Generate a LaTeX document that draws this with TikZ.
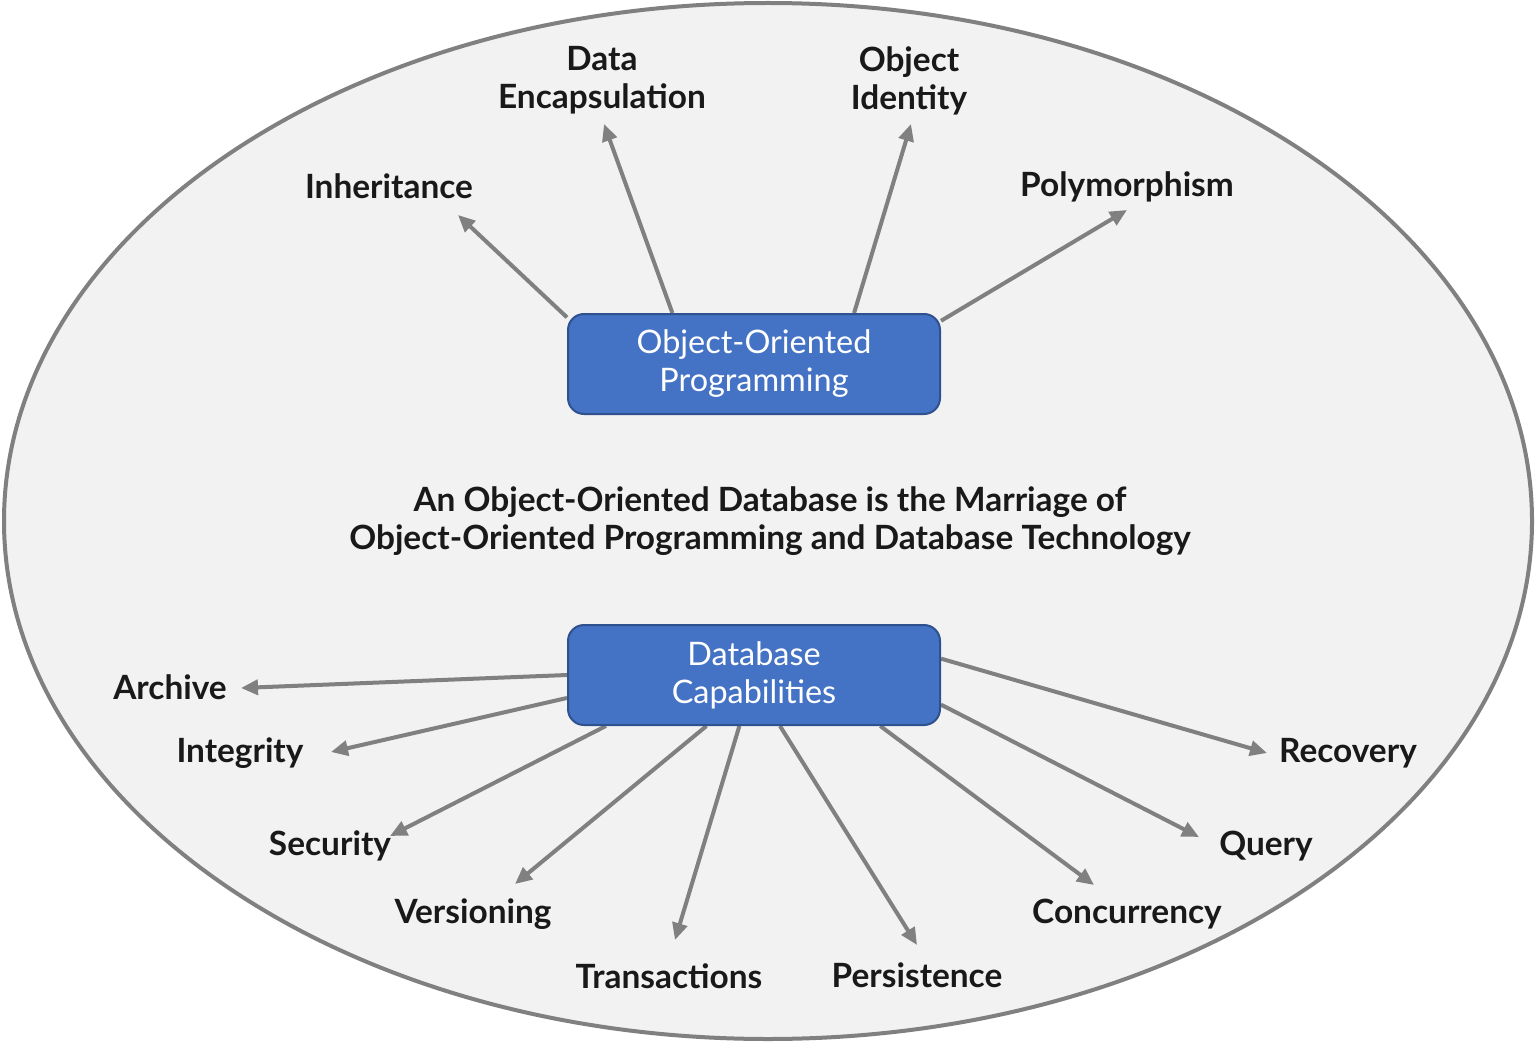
\documentclass[tikz,border=0pt]{standalone}
\usepackage{fontspec}
\setmainfont{Lato}
\usetikzlibrary{arrows.meta,backgrounds}
\definecolor{ovalgray}{RGB}{242,242,242}
\definecolor{linegray}{RGB}{128,128,128}
\definecolor{boxblue}{RGB}{68,114,196}
\definecolor{boxedge}{RGB}{47,82,143}

\begin{document}
\begin{tikzpicture}[x=0.5pt,y=-0.5pt,
  topic/.style={draw=boxedge,line width=1pt,fill=boxblue,rounded corners=8pt,
    minimum width=186pt,minimum height=50pt,text=white,align=center,
    font=\fontsize{16.2}{19}\selectfont},
  lbl/.style={align=center,text=black!90,yshift=-1.2pt,font=\fontsize{16.7}{19}\selectfont\bfseries},
  arr/.style={draw=linegray,line width=2pt,-{Triangle[length=8.5pt,width=7.5pt]}}]
  \useasboundingbox (0,0) rectangle (1536,1043);

  % the two halves
  \node[topic] (oop) at (754,364) {\raisebox{-1.5pt}{\parbox{160pt}{\centering Object-Oriented\\Programming}}};
  \node[topic] (db) at (754,675) {\raisebox{-1.5pt}{\parbox{160pt}{\centering Database\\Capabilities}}};
  \node[lbl] (title) at (770,519) {An Object-Oriented Database is the Marriage of\\Object-Oriented Programming and Database Technology};

  % oop side
  \node[lbl] (inh) at (389,184) {Inheritance};
  \node[lbl] (enc) at (602,78) {Data\\Encapsulation};
  \node[lbl] (ident) at (909,78) {Object\\Identity};
  \node[lbl] (poly) at (1127,184) {Polymorphism};
  \coordinate (inhTip) at (458,215);
  \coordinate (encTip) at (604,124);
  \coordinate (identTip) at (911,124);
  \coordinate (polyTip) at (1127,210);

  % database side
  \node[lbl] (arch) at (170,685) {Archive};
  \node[lbl] (integ) at (240,751) {Integrity};
  \node[lbl] (secur) at (330,844) {Security};
  \node[lbl] (vers) at (473,912) {Versioning};
  \node[lbl] (trans) at (669,974) {Transactions};
  \node[lbl] (pers) at (917,973) {Persistence};
  \node[lbl] (conc) at (1127,912) {Concurrency};
  \node[lbl] (query) at (1266,844) {Query};
  \node[lbl] (recov) at (1348,751) {Recovery};
  \coordinate (archTip) at (241,688);
  \coordinate (integTip) at (331,752);
  \coordinate (securTip) at (390,836);
  \coordinate (versTip) at (515,884);
  \coordinate (transTip) at (675,940);
  \coordinate (persTip) at (917,945);
  \coordinate (concTip) at (1094,885);
  \coordinate (queryTip) at (1199,837);
  \coordinate (recovTip) at (1267,753);

  \begin{pgfonlayer}{background}
    \draw[draw=linegray,line width=2pt,fill=ovalgray] (768,521) ellipse [x radius=764,y radius=518];
    \foreach \a/\t in {166/inhTip,148/encTip,27/identTip,13.4/polyTip} {
      \draw[arr] (oop.\a) -- (\t);
    }
    \foreach \a/\t in {180/archTip,187/integTip,199/securTip,227/versTip,254/transTip,
        297/persTip,338/concTip,351/queryTip,5/recovTip} {
      \draw[arr] (db.\a) -- (\t);
    }
  \end{pgfonlayer}
\end{tikzpicture}
\end{document}
